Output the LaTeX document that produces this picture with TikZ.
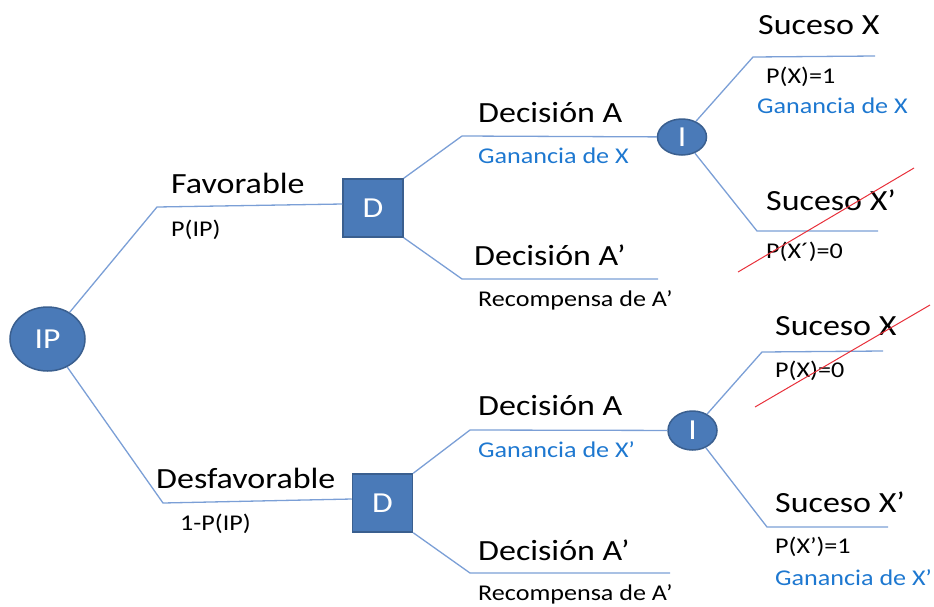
\documentclass[tikz,border=0pt]{standalone}
\usepackage{fontspec}
\setmainfont{Carlito}[FakeStretch=1.16]
\usetikzlibrary{shapes.geometric}
\definecolor{nodefill}{HTML}{4A7AB8}
\definecolor{nodeedge}{HTML}{3A5F8F}
\definecolor{branch}{HTML}{7B9FD6}
\definecolor{gain}{HTML}{1E78D0}
\definecolor{cross}{HTML}{E8303A}
\tikzset{
  chance/.style={ellipse, fill=nodefill, draw=nodeedge, line width=1.5pt, inner sep=0pt,
                 text=white, font=\fontsize{29}{32}\selectfont},
  decision/.style={rectangle, fill=nodefill, draw=nodeedge, line width=1.5pt, inner sep=0pt,
                 minimum width=60pt, minimum height=58pt, text=white, font=\fontsize{29}{32}\selectfont},
  branchline/.style={draw=branch, line width=1.3pt},
  bigtxt/.style={anchor=base west, inner sep=0pt, font=\fontsize{29.3}{32}\selectfont},
  smalltxt/.style={anchor=base west, inner sep=0pt, font=\fontsize{22.5}{26}\selectfont},
  gaintxt/.style={smalltxt, text=gain},
  crossline/.style={draw=cross, line width=1pt},
}
\begin{document}
\begin{tikzpicture}[x=1pt,y=-1pt]
\useasboundingbox (0,0) rectangle (934,606);
% nodes
\node[chance, minimum width=75pt, minimum height=64pt] (IP) at (47.5,339) {IP};
\node[decision] (D1) at (373,208) {D};
\node[decision] (D2) at (382.5,503) {D};
\node[chance, minimum width=49pt, minimum height=36pt] (I1) at (682,137) {I};
\node[chance, minimum width=49pt, minimum height=39pt] (I2) at (692.5,430.5) {I};
% corners and free ends
\coordinate (c1) at (157,207);
\coordinate (c2) at (163,503);
\coordinate (u1) at (462,136);
\coordinate (u2) at (462,279);
\coordinate (u2e) at (658,279);
\coordinate (l1) at (470,430);
\coordinate (l2) at (470,573);
\coordinate (l2e) at (670,573);
\coordinate (r1) at (753,57);
\coordinate (r1e) at (875,56);
\coordinate (r2) at (757,231);
\coordinate (r2e) at (878,231);
\coordinate (r3) at (762,352);
\coordinate (r3e) at (883,351);
\coordinate (r4) at (767,527);
\coordinate (r4e) at (888,527);
% connectors
\draw[branchline] (IP) -- (c1) -- (D1.west |- 0,204);
\draw[branchline] (IP) -- (c2) -- (D2.west |- 0,499);
\draw[branchline] (D1.north east) -- (u1) -- (I1);
\draw[branchline] (D1.south east) -- (u2) -- (u2e);
\draw[branchline] (D2.north east) -- (l1) -- (I2);
\draw[branchline] (D2.south east) -- (l2) -- (l2e);
\draw[branchline] (I1) -- (r1) -- (r1e);
\draw[branchline] (I1) -- (r2) -- (r2e);
\draw[branchline] (I2) -- (r3) -- (r3e);
\draw[branchline] (I2) -- (r4) -- (r4e);
% labels, first level
\node[bigtxt] (tfav) at (171,193) {Favorable};
\node[smalltxt] (pfav) at (171,236) {P(IP)};
\node[bigtxt] (tdes) at (156,488) {Desfavorable};
\node[smalltxt] (pdes) at (180,530) {1-P(IP)};
% labels, decisions upper
\node[bigtxt] (da1) at (478,122) {Decisión A};
\node[gaintxt] (ga1) at (478,163) {Ganancia de X};
\node[bigtxt] (db1) at (474,265) {Decisión A’};
\node[smalltxt] (rb1) at (478,306) {Recompensa de A’};
% labels, decisions lower
\node[bigtxt] (da2) at (478,415) {Decisión A};
\node[gaintxt] (ga2) at (478,457) {Ganancia de X’};
\node[bigtxt] (db2) at (478,560) {Decisión A’};
\node[smalltxt] (rb2) at (478,600) {Recompensa de A’};
% labels, outcomes upper
\node[bigtxt] (sx1) at (758,34) {Suceso X};
\node[smalltxt] (px1) at (766,83) {P(X)=1};
\node[gaintxt] (gx1) at (757,113) {Ganancia de X};
\node[bigtxt] (sy1) at (766,210) {Suceso X’};
\node[smalltxt] (py1) at (766,258) {P(X´)=0};
% labels, outcomes lower
\node[bigtxt] (sx2) at (775,335) {Suceso X};
\node[smalltxt] (px2) at (775,377) {P(X)=0};
\node[bigtxt] (sy2) at (775,512) {Suceso X’};
\node[smalltxt] (py2) at (775,553) {P(X’)=1};
\node[gaintxt] (gy2) at (775,585) {Ganancia de X’};
% strike-through lines
\coordinate (k1a) at (738,272);
\coordinate (k1b) at (914,168);
\coordinate (k2a) at (755,407);
\coordinate (k2b) at (930,305);
\draw[crossline] (k1a) -- (k1b);
\draw[crossline] (k2a) -- (k2b);
\end{tikzpicture}
\end{document}
